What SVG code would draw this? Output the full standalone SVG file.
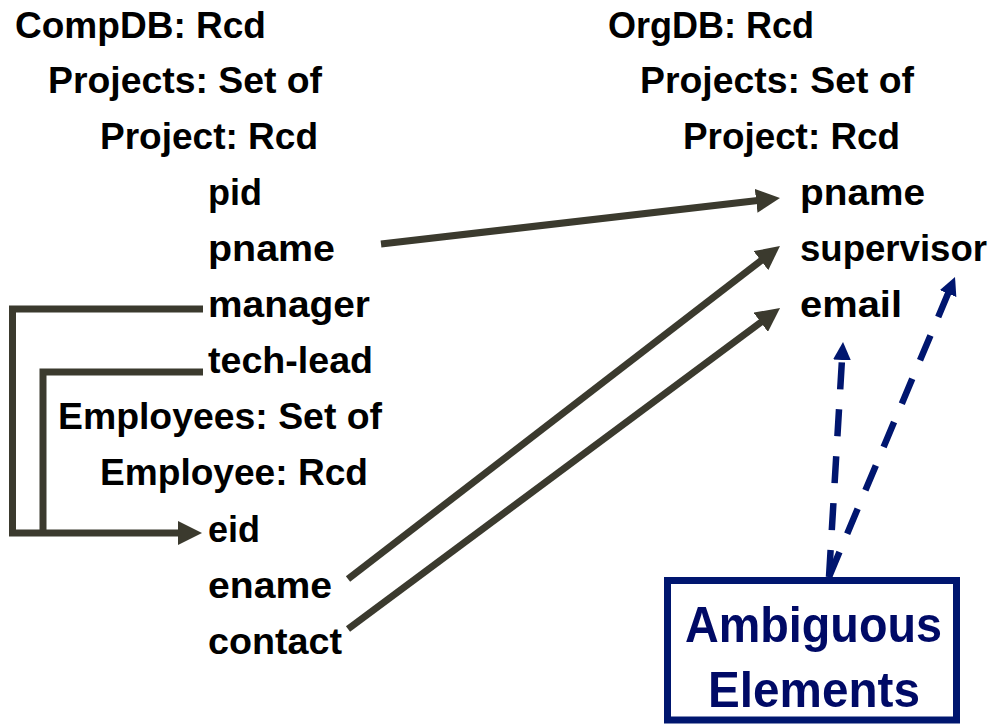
<svg xmlns="http://www.w3.org/2000/svg" width="990" height="725" viewBox="0 0 990 725">
  <style>
    .t { font-family: "Liberation Sans", Arial, sans-serif; font-weight: bold; font-size: 37.5px; fill: #000; }
    .amb { font-family: "Liberation Sans", Arial, sans-serif; font-weight: bold; font-size: 50px; fill: #000a66; }
    .link { fill: none; stroke: #3b3a2e; stroke-width: 7; }
    .dash { fill: none; stroke: #00166f; stroke-width: 6.5; stroke-dasharray: 27 20; }
  </style>
  <defs>
    <marker id="head" markerUnits="userSpaceOnUse" markerWidth="24" markerHeight="24" viewBox="0 0 24 24" refX="6" refY="12" orient="auto">
      <path d="M0,0 L24,12 L0,24 z" fill="#3b3a2e"/>
    </marker>
    <marker id="headBlue" markerUnits="userSpaceOnUse" markerWidth="18" markerHeight="18" viewBox="0 0 18 18" refX="4" refY="9" orient="auto">
      <path d="M0,0 L18,9 L0,18 z" fill="#00166f"/>
    </marker>
  </defs>

  <rect width="990" height="725" fill="#fff"/>

  <!-- source schema -->
  <g id="compdb">
    <text class="t" x="15" y="38" textLength="251" lengthAdjust="spacingAndGlyphs">CompDB: Rcd</text>
    <text class="t" x="48" y="93" textLength="274" lengthAdjust="spacingAndGlyphs">Projects: Set of</text>
    <text class="t" x="100" y="149" textLength="218" lengthAdjust="spacingAndGlyphs">Project: Rcd</text>
    <text class="t" x="208" y="205" textLength="54" lengthAdjust="spacingAndGlyphs">pid</text>
    <text class="t" x="208" y="261" textLength="127" lengthAdjust="spacingAndGlyphs">pname</text>
    <text class="t" x="208" y="317" textLength="162" lengthAdjust="spacingAndGlyphs">manager</text>
    <text class="t" x="208" y="373" textLength="165" lengthAdjust="spacingAndGlyphs">tech-lead</text>
    <text class="t" x="58" y="429" textLength="324" lengthAdjust="spacingAndGlyphs">Employees: Set of</text>
    <text class="t" x="100" y="485" textLength="268" lengthAdjust="spacingAndGlyphs">Employee: Rcd</text>
    <text class="t" x="208" y="542" textLength="52" lengthAdjust="spacingAndGlyphs">eid</text>
    <text class="t" x="208" y="598" textLength="124" lengthAdjust="spacingAndGlyphs">ename</text>
    <text class="t" x="208" y="654" textLength="134" lengthAdjust="spacingAndGlyphs">contact</text>
  </g>

  <!-- target schema -->
  <g id="orgdb">
    <text class="t" x="608" y="38" textLength="206" lengthAdjust="spacingAndGlyphs">OrgDB: Rcd</text>
    <text class="t" x="640" y="93" textLength="274" lengthAdjust="spacingAndGlyphs">Projects: Set of</text>
    <text class="t" x="683" y="149" textLength="217" lengthAdjust="spacingAndGlyphs">Project: Rcd</text>
    <text class="t" x="800" y="205" textLength="125" lengthAdjust="spacingAndGlyphs">pname</text>
    <text class="t" x="800" y="261" textLength="187" lengthAdjust="spacingAndGlyphs">supervisor</text>
    <text class="t" x="800" y="317" textLength="102" lengthAdjust="spacingAndGlyphs">email</text>
  </g>

  <!-- callout box -->
  <g id="ambiguous">
    <rect x="667.5" y="580.5" width="289" height="139.5" fill="#fff" stroke="#00166f" stroke-width="7"/>
    <text class="amb" x="685" y="642" textLength="257" lengthAdjust="spacingAndGlyphs">Ambiguous</text>
    <text class="amb" x="708" y="707" textLength="212" lengthAdjust="spacingAndGlyphs">Elements</text>
  </g>

  <!-- connectors -->
  <g id="connectors">
    <path class="link" d="M203,309 H12.5 V533 H184" marker-end="url(#head)"/>
    <path class="link" d="M203,372 H43 V533"/>
    <line class="link" x1="381" y1="244" x2="762.1" y2="200.1" marker-end="url(#head)"/>
    <line class="link" x1="348" y1="579" x2="765.7" y2="257" marker-end="url(#head)"/>
    <line class="link" x1="348" y1="629" x2="765.6" y2="318.7" marker-end="url(#head)"/>
    <line class="dash" x1="829" y1="577" x2="842.2" y2="356" marker-end="url(#headBlue)"/>
    <line class="dash" x1="829" y1="577" x2="949.6" y2="289.9" marker-end="url(#headBlue)"/>
  </g>
</svg>
